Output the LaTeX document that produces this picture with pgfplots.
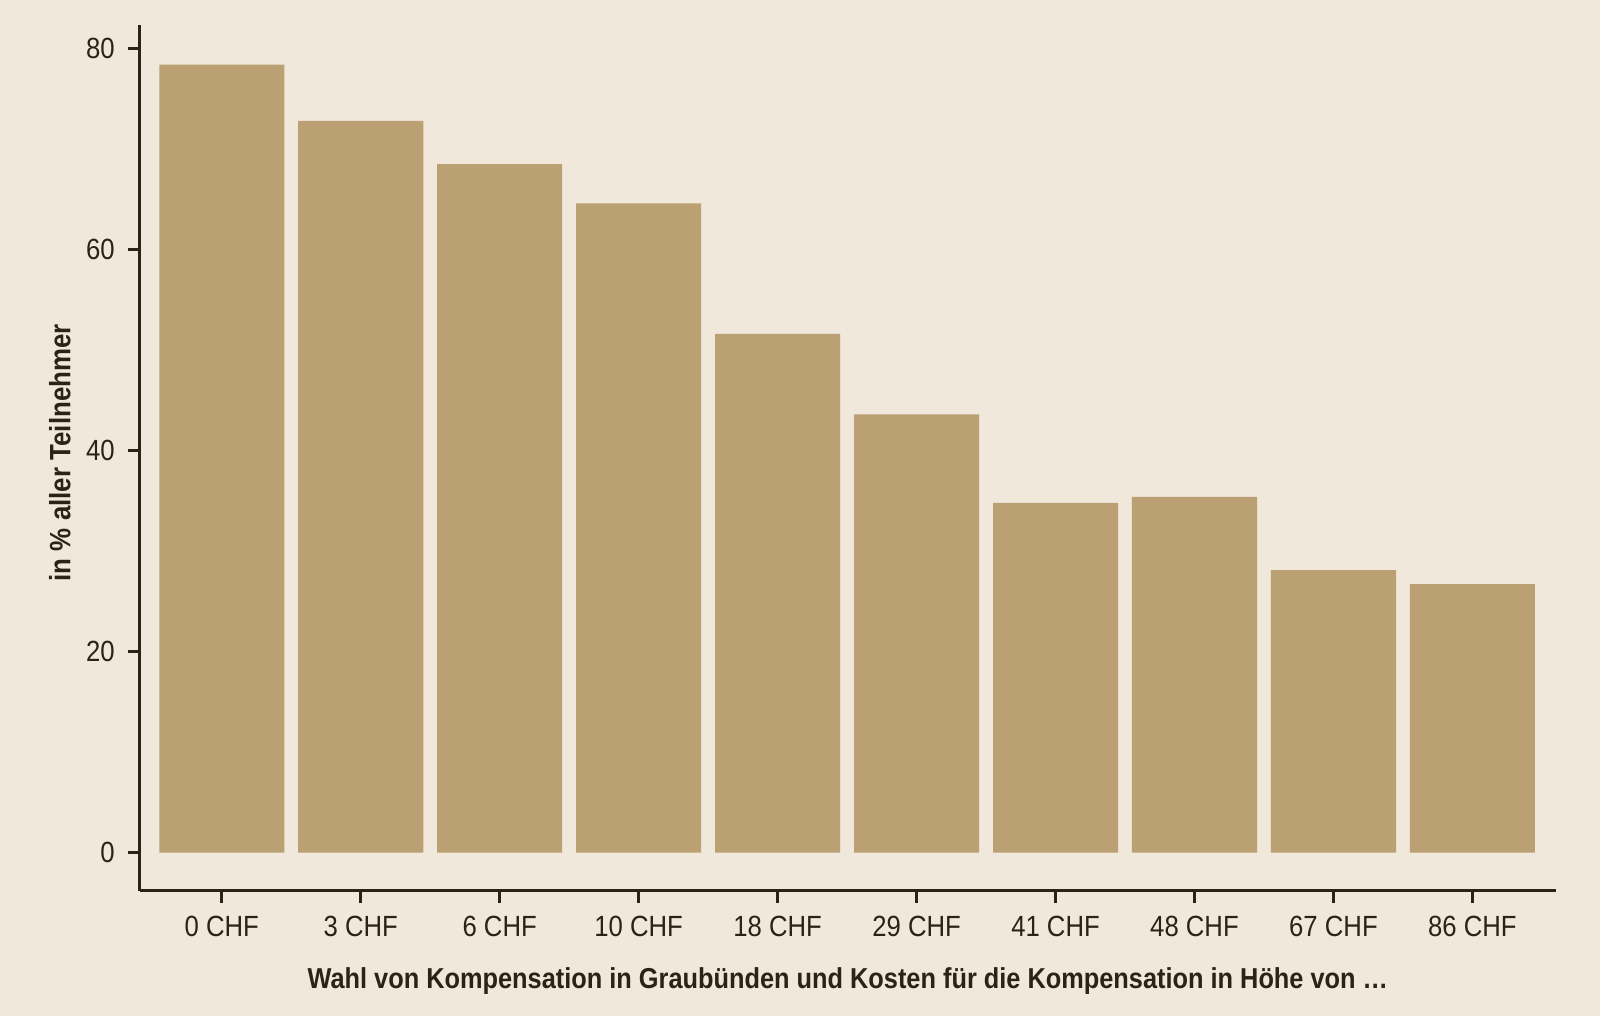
\documentclass[border=0pt]{standalone}
\usepackage{fontspec}
\setmainfont{Liberation Sans}[FakeStretch=0.88]
\usepackage{pgfplots}
\pgfplotsset{compat=1.18}
\definecolor{bg}{RGB}{240,232,218}
\definecolor{bar}{RGB}{187,160,115}
\definecolor{ink}{RGB}{43,36,22}
\begin{document}
\begin{tikzpicture}
\fill[bg] (-69.9pt,-62.6pt) rectangle (730.1pt,445.4pt);
\begin{axis}[
  at={(0,0)}, anchor=south west,
  width=708pt, height=432.7pt, scale only axis,
  xmin=-0.59, xmax=9.6, ymin=-3.8, ymax=82.3,
  axis x line*=bottom, axis y line*=left,
  axis line style={ink, line width=1.4pt, -},
  xtick=data,
  xticklabels={0 CHF,3 CHF,6 CHF,10 CHF,18 CHF,29 CHF,41 CHF,48 CHF,67 CHF,86 CHF},
  ytick={0,20,40,60,80},
  tick style={ink, line width=1.4pt},
  tick align=outside, major tick length=6pt,
  /pgf/number format/assume math mode=true,
  ticklabel style={font=\fontsize{14.6}{17}\selectfont, text=ink},
  xticklabel style={yshift=-3pt},
  yticklabel style={xshift=-3pt},
  ylabel={\textbf{in \% aller Teilnehmer}},
  xlabel={\textbf{Wahl von Kompensation in Graubünden und Kosten für die Kompensation in Höhe von …}},
  ylabel style={font=\fontsize{14.7}{17}\selectfont, text=ink},
  xlabel style={font=\fontsize{14.4}{17}\selectfont, text=ink},
  every axis y label/.append style={at={(-40pt,219pt)}, anchor=center, rotate=0},
  every axis x label/.append style={at={(354pt,-49pt)}, anchor=base},
  ybar, bar width=0.9,
]
\addplot[fill=bar, draw=none] coordinates {
(0,78.4) (1,72.8) (2,68.5) (3,64.6) (4,51.6) (5,43.6) (6,34.8) (7,35.4) (8,28.1) (9,26.7)};
\end{axis}
\pgfresetboundingbox
\useasboundingbox (-69.9pt,-62.6pt) rectangle (730.1pt,445.4pt);
\end{tikzpicture}
\end{document}
